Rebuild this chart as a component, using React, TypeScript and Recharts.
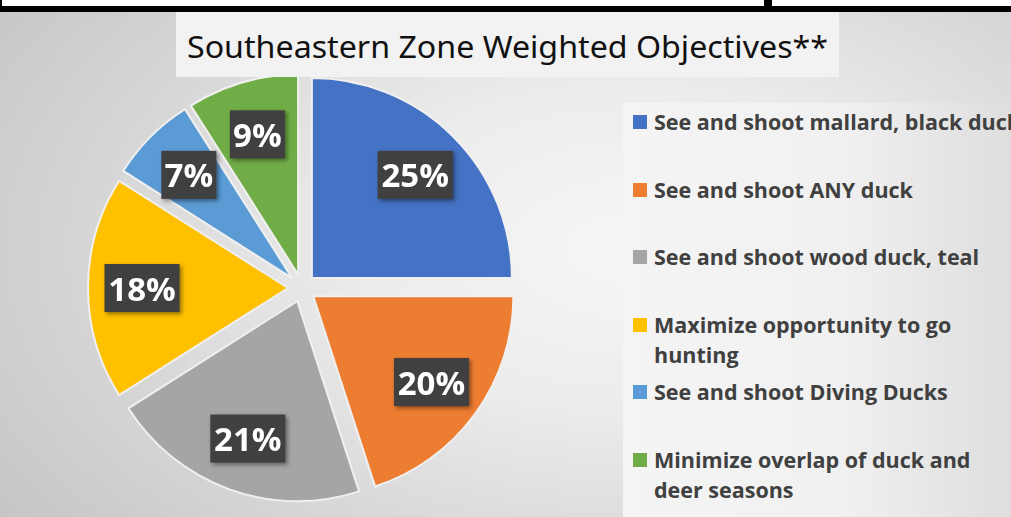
import React from 'react';
import { Cell, Legend, Pie, PieChart, Sector } from 'recharts';

const categories = [
  'See and shoot mallard, black duck',
  'See and shoot ANY duck',
  'See and shoot wood duck, teal',
  'Maximize opportunity to go hunting',
  'See and shoot Diving Ducks',
  'Minimize overlap of duck and deer seasons',
];
const weights = [25, 20, 21, 18, 7, 9];
const colors = ['#4472c4', '#ed7d31', '#a5a5a5', '#ffc000', '#5b9bd5', '#70ad47'];

const data = categories.map((name, i) => ({ name, value: weights[i] }));

const RADIAN = Math.PI / 180;
const EXPLODE = 14;

function ExplodedSector(props: any) {
  const { cx, cy, midAngle } = props;
  const dx = EXPLODE * Math.cos(-midAngle * RADIAN);
  const dy = EXPLODE * Math.sin(-midAngle * RADIAN);
  return <Sector {...props} cx={cx + dx} cy={cy + dy} />;
}

function PercentLabel(props: any) {
  const { cx, cy, midAngle, outerRadius, percent } = props;
  const r = outerRadius * 0.73 + EXPLODE;
  const x = cx + r * Math.cos(-midAngle * RADIAN);
  const y = cy + r * Math.sin(-midAngle * RADIAN);
  const txt = `${Math.round(percent * 100)}%`;
  const w = (txt.length - 1) * 20 + 35;
  const h = 48;
  return (
    <g style={{ filter: 'drop-shadow(2px 2px 2px rgba(0,0,0,0.45))' }}>
      <rect x={x - w / 2} y={y - h / 2} width={w} height={h} fill="#404040" />
      <text
        x={x}
        y={y}
        textAnchor="middle"
        dominantBaseline="central"
        fill="#ffffff"
        fontFamily="'Open Sans', sans-serif"
        fontWeight={700}
        fontSize={33}
      >
        {txt}
      </text>
    </g>
  );
}

// legend slots are a fixed 68px apart, wrapped lines don't push the next item down
function LegendList() {
  return (
    <div style={{ fontFamily: "'Open Sans', sans-serif", fontWeight: 700, fontSize: 21.5, color: '#404040' }}>
      {categories.map((name, i) => (
        <div key={name} style={{ position: 'relative', height: 68.5, paddingLeft: 21 }}>
          <span
            style={{
              position: 'absolute',
              left: 0,
              top: 8,
              width: 14,
              height: 14,
              background: colors[i],
            }}
          />
          <div style={{ width: 368, lineHeight: '30px', marginTop: -1 }}>{name}</div>
        </div>
      ))}
    </div>
  );
}

export default function App() {
  return (
    <div
      style={{
        position: 'absolute',
        left: 0,
        top: 0,
        width: 1011,
        height: 517,
        overflow: 'hidden',
        background:
          'radial-gradient(ellipse 75% 90% at 62% 48%, #f6f6f6 0%, #ececec 35%, #d6d6d6 70%, #c6c6c6 100%)',
      }}
    >
      <div
        style={{
          position: 'absolute',
          left: 623,
          top: 103,
          width: 388,
          height: 414,
          background: 'linear-gradient(to right, #f4f4f4 0%, #f1f1f1 55%, #dedede 100%)',
        }}
      />

      <div style={{ position: 'absolute', left: 0, top: 0 }}>
        <PieChart width={1011} height={517}>
          <Pie
            data={data}
            dataKey="value"
            nameKey="name"
            cx={297}
            cy={283}
            outerRadius={200}
            startAngle={90}
            endAngle={-270}
            stroke="#f0f0f0"
            strokeWidth={2}
            shape={ExplodedSector}
            label={PercentLabel}
            labelLine={false}
            isAnimationActive={false}
          >
            {data.map((d, i) => (
              <Cell key={d.name} fill={colors[i]} />
            ))}
          </Pie>
          <Legend
            layout="vertical"
            align="right"
            verticalAlign="top"
            content={LegendList}
            wrapperStyle={{ left: 633, top: 108, width: 400, right: 'auto' }}
          />
        </PieChart>
      </div>

      <div style={{ position: 'absolute', left: 0, top: 0, width: 1011, height: 12, background: '#000' }} />
      <div style={{ position: 'absolute', left: 2, top: 0, width: 762, height: 6, background: '#fff' }} />
      <div style={{ position: 'absolute', left: 772, top: 0, width: 239, height: 6, background: '#fff' }} />

      <div style={{ position: 'absolute', left: 176, top: 12, width: 663, height: 65, background: '#f2f2f2' }}>
        <svg width={663} height={65}>
          <text
            x={11}
            y={46}
            textLength={641}
            lengthAdjust="spacingAndGlyphs"
            fill="#111"
            fontFamily="'Noto Sans', sans-serif"
            fontSize={30}
          >
            Southeastern Zone Weighted Objectives**
          </text>
        </svg>
      </div>
    </div>
  );
}
